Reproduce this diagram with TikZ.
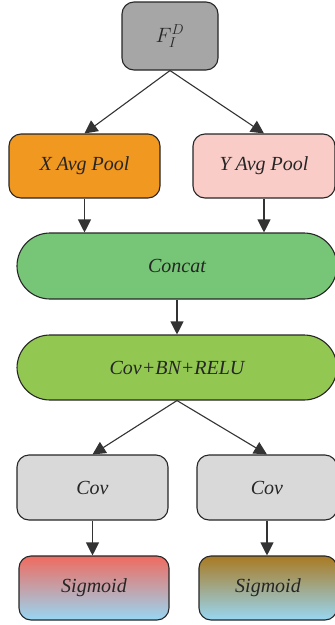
\documentclass[tikz,border=0pt]{standalone}
\usepackage{fontspec}
\setmainfont{Liberation Serif}
\usetikzlibrary{arrows.meta}
\definecolor{fgray}{HTML}{A6A6A6}
\definecolor{xorange}{HTML}{F0981F}
\definecolor{ypink}{HTML}{F9CCC7}
\definecolor{cgreen}{HTML}{77C576}
\definecolor{bgreen}{HTML}{92C852}
\definecolor{covgray}{HTML}{D9D9D9}
\definecolor{sred}{HTML}{EF6B5F}
\definecolor{sbrown}{HTML}{A97A22}
\definecolor{sblue}{HTML}{98D7F3}
\definecolor{edge}{HTML}{262626}
\definecolor{linec}{HTML}{333333}
\tikzset{
  box/.style={draw=edge, line width=1.1pt, rounded corners=12pt, inner sep=0pt,
    font=\itshape\fontsize{20}{24}\selectfont, text=black!85},
  pill/.style={box, rounded corners=33pt},
  link/.style={draw=linec, line width=1.1pt, -{Triangle[length=13pt,width=13pt]}},
}
\begin{document}
\begin{tikzpicture}[x=1pt,y=-1pt]
\useasboundingbox (0,0) rectangle (335,625);
\begin{scope}
\clip (0,0) rectangle (335,625);
\node[box, fill=fgray, minimum width=96pt, minimum height=68pt] (f) at (170,36)
  {$F_{I}^{D}$};
\node[box, fill=xorange, minimum width=151pt, minimum height=64pt] (xp) at (84.5,166) {X Avg Pool};
\node[box, fill=ypink, minimum width=142pt, minimum height=64pt] (yp) at (264,166) {Y Avg Pool};
\node[pill, fill=cgreen, minimum width=320pt, minimum height=66pt] (cat) at (177,266) {Concat};
\node[pill, fill=bgreen, minimum width=320pt, minimum height=65pt] (cbr) at (177,367.5) {Cov+BN+RELU};
\node[box, fill=covgray, minimum width=151pt, minimum height=65pt] (c1) at (92.5,487.5) {Cov};
\node[box, fill=covgray, minimum width=140pt, minimum height=65pt] (c2) at (267,487.5) {Cov};
\node[box, top color=sred, bottom color=sblue, minimum width=150pt, minimum height=64pt] (s1) at (94,588) {Sigmoid};
\node[box, top color=sbrown, bottom color=sblue, minimum width=138pt, minimum height=64pt] (s2) at (268,588) {Sigmoid};
\end{scope}
% connectors
\draw[link] (f.south) -- (xp.north);
\draw[link] (f.south) -- (yp.north);
\draw[link] (xp.south) -- (cat.north -| xp.south);
\draw[link] (yp.south) -- (cat.north -| yp.south);
\draw[link] (cat.south) -- (cbr.north);
\draw[link] (cbr.south) -- (c1.north);
\draw[link] (cbr.south) -- (c2.north);
\draw[link] (c1.south) -- (s1.north -| c1.south);
\draw[link] (c2.south) -- (s2.north -| c2.south);
\end{tikzpicture}
\end{document}
